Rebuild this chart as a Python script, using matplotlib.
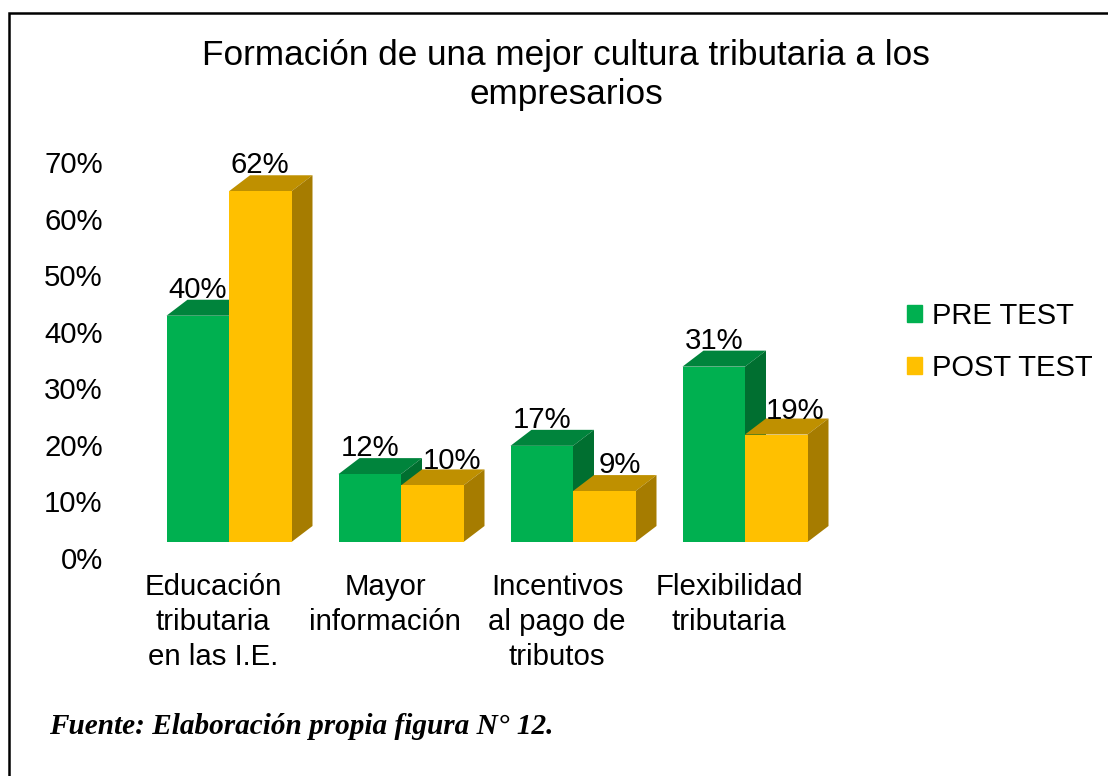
import matplotlib
matplotlib.use("Agg")
import matplotlib.pyplot as plt
from matplotlib.lines import Line2D
from matplotlib.patches import Polygon, Rectangle
from matplotlib.transforms import ScaledTranslation

plt.rcParams['font.family'] = ['Liberation Sans', 'DejaVu Sans']

# Daten
categorias = ["Educación\ntributaria\nen las I.E.", "Mayor\ninformación",
              "Incentivos\nal pago de\ntributos", "Flexibilidad\ntributaria"]
pre_test = [40, 12, 17, 31]
post_test = [62, 10, 9, 19]
series = ["PRE TEST", "POST TEST"]
yticks = [0, 10, 20, 30, 40, 50, 60, 70]
titulo = "Formación de una mejor cultura tributaria a los\nempresarios"
fuente = "Fuente: Elaboración propia figura N° 12."

W, H = 1108, 776
fig = plt.figure(figsize=(W / 100, H / 100), dpi=100)

# Rahmen (nur oben und links sichtbar)
fig.add_artist(Line2D([8.5 / W, 8.5 / W, 1], [0, 1 - 12.5 / H, 1 - 12.5 / H], transform=fig.transFigure,
                      color="black", linewidth=1.8, solid_joinstyle="miter"))

ax = fig.add_axes([143 / W, (H - 542) / H, 688 / W, 396 / H])
ax.set_xlim(-0.5, 3.5)
ax.set_ylim(0, 70)
for s in ax.spines.values():
    s.set_visible(False)
ax.patch.set_visible(False)

ancho = 62.5 / 172
dx = 21 / 172
dy = 16 / 5.66

colores = [("#00B050", "#00843C", "#006F30"), ("#FFC000", "#BF9000", "#A67C00")]


def barra(x0, v, col):
    # Frontseite + Oberseite + Seite
    ax.bar(x0, v, ancho, align="edge", color=col[0], zorder=3)
    ax.add_patch(Polygon([(x0, v), (x0 + dx, v + dy), (x0 + ancho + dx, v + dy), (x0 + ancho, v)],
                         facecolor=col[1], edgecolor="none", zorder=2))
    ax.add_patch(Polygon([(x0 + ancho, 0), (x0 + ancho + dx, dy), (x0 + ancho + dx, v + dy), (x0 + ancho, v)],
                         facecolor=col[2], edgecolor="none", zorder=2))


# Beschriftungen der POST-Balken sind im Original teils nach rechts gerueckt
versatz_post = [(0, -4), (20, -6), (16, -4), (19, -6)]

for i in range(len(categorias)):
    barra(i - ancho, pre_test[i], colores[0])
    barra(i, post_test[i], colores[1])
    ax.annotate(f"{pre_test[i]}%", (i - ancho / 2, pre_test[i] + dy), xytext=(0, -4),
                textcoords="offset pixels", ha="center", va="bottom", fontsize=21.2, zorder=5)
    ax.annotate(f"{post_test[i]}%", (i + ancho / 2, post_test[i] + dy), xytext=versatz_post[i],
                textcoords="offset pixels", ha="center", va="bottom", fontsize=21.2, zorder=5)

# Achsen
ax.set_yticks(yticks)
ax.set_yticklabels([f"{v}%" for v in yticks], fontsize=21.2)
ax.tick_params(axis="y", length=0, pad=29)
verschiebung = ScaledTranslation(0, -16 / 100, fig.dpi_scale_trans)
for lab in ax.get_yticklabels():
    lab.set_transform(lab.get_transform() + verschiebung)

ax.set_xticks([])
for i, c in enumerate(categorias):
    ax.annotate(c, (i, 0), xytext=(-16, -31), textcoords="offset pixels", ha="center", va="top",
                fontsize=21.2, linespacing=1.31)

# Legende
handles = [Rectangle((0, 0), 1, 1, color=colores[0][0]), Rectangle((0, 0), 1, 1, color=colores[1][0])]
fig.legend(handles, series, loc="center left", bbox_to_anchor=(881 / W, 1 - 342 / H), frameon=False,
           fontsize=21, handlelength=0.52, handleheight=0.52, handletextpad=0.32, labelspacing=0.8)

fig.text(566 / W, 1 - 75 / H, titulo, ha="center", va="center", fontsize=25.3, linespacing=1.2)
fig.text(49 / W, 1 - 727 / H, fuente, family="Liberation Serif", style="italic", weight="bold",
         fontsize=21.1, va="center")

fig.savefig("out.png", dpi=100)
